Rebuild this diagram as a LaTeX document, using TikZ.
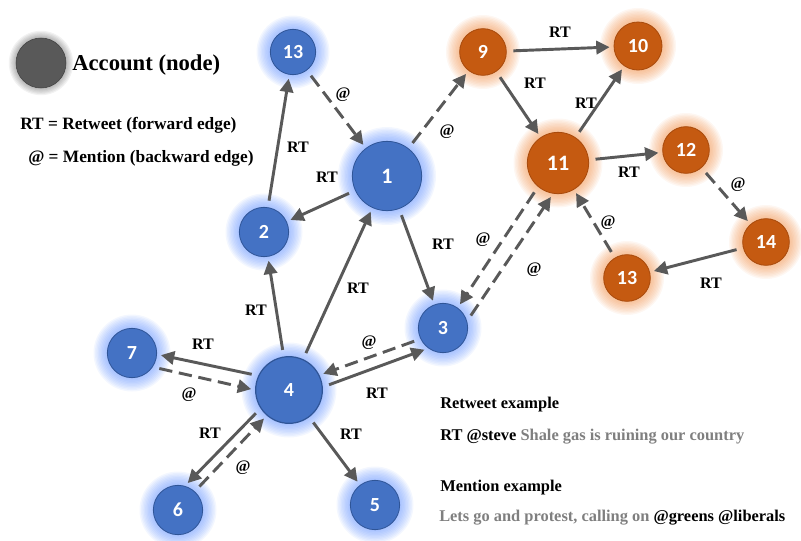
\documentclass[tikz,border=0pt]{standalone}
\usepackage{fontspec}
\setmainfont{Liberation Serif}
\newfontfamily\numfamily{Carlito}
\usetikzlibrary{arrows.meta, backgrounds}

\definecolor{accblue}{HTML}{4472C4}
\definecolor{accblueline}{HTML}{2F5597}
\definecolor{glowblue}{HTML}{5B8CFF}
\definecolor{accorange}{HTML}{C55A11}
\definecolor{accorangeline}{HTML}{A84A0C}
\definecolor{gloworange}{HTML}{F08A40}
\definecolor{edgegray}{HTML}{595959}
\definecolor{textgray}{HTML}{7F7F7F}

\tikzset{
    account/.style={
        circle, inner sep=0pt, text=white, line width=0.6pt,
        font=\numfamily\bfseries\fontsize{15}{15}\selectfont
    },
    blueacc/.style={account, fill=accblue, draw=accblueline},
    orangeacc/.style={account, fill=accorange, draw=accorangeline},
    rt/.style={
        line width=2.2pt, draw=edgegray, -{Triangle[length=10pt,width=10pt]},
        shorten <=5pt, shorten >=3pt
    },
    mention/.style={rt, dash pattern=on 10pt off 5pt},
    lbl/.style={font=\bfseries\fontsize{12}{12}\selectfont, inner sep=1pt},
    legend/.style={anchor=west, inner sep=0pt, font=\bfseries\fontsize{13}{13}\selectfont},
    example/.style={legend, font=\bfseries\fontsize{12.3}{12.3}\selectfont}
}

\begin{document}
\begin{tikzpicture}[x=0.75pt, y=-0.75pt]
    \useasboundingbox (0,0) rectangle (801,540);

    % Legend
    \node[circle, fill=edgegray, draw=black!75, minimum size=37.5pt] (legacc) at (41,63) {};
    \node[legend, font=\bfseries\fontsize{17}{17}\selectfont] (legtxt) at (72,65) {Account (node)};
    \node[legend] (legrt) at (20,125) {RT = Retweet (forward edge)};
    \node[legend] (legat) at (28,158) {@ = Mention (backward edge)};

    % Blue accounts
    \node[blueacc, minimum size=34pt] (b13) at (293,52) {13};
    \node[blueacc, minimum size=52pt, font=\numfamily\bfseries\fontsize{16.5}{16.5}\selectfont] (b1) at (387,176) {1};
    \node[blueacc, minimum size=37pt] (b2) at (264,232) {2};
    \node[blueacc, minimum size=37pt] (b3) at (443,328) {3};
    \node[blueacc, minimum size=50pt, line width=0.9pt] (b4) at (289,390) {4};
    \node[blueacc, minimum size=37pt] (b7) at (132,353) {7};
    \node[blueacc, minimum size=37pt] (b6) at (178,510) {6};
    \node[blueacc, minimum size=37pt] (b5) at (375,505) {5};

    % Orange accounts
    \node[orangeacc, minimum size=35pt] (o9) at (483,52) {9};
    \node[orangeacc, minimum size=36pt] (o10) at (638,46) {10};
    \node[orangeacc, minimum size=46pt, font=\numfamily\bfseries\fontsize{16.5}{16.5}\selectfont] (o11) at (558,163) {11};
    \node[orangeacc, minimum size=35pt] (o12) at (686,150) {12};
    \node[orangeacc, minimum size=35pt] (o14) at (766,242) {14};
    \node[orangeacc, minimum size=35pt] (o13) at (627,278) {13};

    % Glow
    \begin{scope}[on background layer]
        \foreach \n/\r/\c in {b13/22.5/glowblue, b1/35/glowblue, b2/24.5/glowblue,
            b3/24.5/glowblue, b4/33.5/glowblue, b7/24.5/glowblue, b6/24.5/glowblue, b5/24.5/glowblue,
            o9/23/gloworange, o10/24/gloworange, o11/30.5/gloworange, o12/23/gloworange,
            o14/23/gloworange, o13/23/gloworange}
            \foreach \g in {1,...,10}
                \fill[\c, opacity=0.07] (\n) circle[radius={(\r+1.4*\g)*0.75pt}];
        \foreach \g in {1,...,6}
            \fill[black, opacity=0.05] (legacc) circle[radius={(25+1.2*\g)*0.75pt}];
    \end{scope}

    % Retweets and mentions, blue group
    \draw[mention] (b13) -- (b1) node[lbl] at (343,95) {@};
    \draw[rt] (b2) -- (b13) node[lbl] at (298,147) {RT};
    \draw[rt] (b1) -- (b2) node[lbl] at (327,177) {RT};
    \draw[rt] (b1) -- (b3) node[lbl] at (443,244) {RT};
    \draw[mention] (b1) -- (o9) node[lbl] at (447,132) {@};
    \draw[rt] (b4) -- (b2) node[lbl] at (256,310) {RT};
    \draw[rt] (b4) -- (b1) node[lbl] at (358,288) {RT};
    \draw[rt] (b4.155) -- (b7.-3) node[lbl] at (203,344) {RT};
    \draw[mention] (b7.-34) -- (b4.180) node[lbl] at (189,395) {@};
    \draw[mention] (b3.-154) -- (b4.26) node[lbl] at (369,343) {@};
    \draw[rt] (b4.5) -- (b3.-126) node[lbl] at (377,393) {RT};
    \draw[rt] (b4.-147) -- (b6.74) node[lbl] at (210,433) {RT};
    \draw[mention] (b6.48) -- (b4.-131) node[lbl] at (243,468) {@};
    \draw[rt] (b4) -- (b5) node[lbl] at (351,434) {RT};

    % between the groups
    \draw[mention] (o11.-130) -- (b3.54) node[lbl] at (483,240) {@};
    \draw[mention] (b3.16) -- (o11.-99) node[lbl] at (534,270) {@};

    % orange group
    \draw[rt] (o9) -- (o10) node[lbl] at (560,32) {RT};
    \draw[rt] (o9) -- (o11) node[lbl] at (535,83) {RT};
    \draw[rt] (o11) -- (o10) node[lbl] at (586,103) {RT};
    \draw[rt] (o11) -- (o12) node[lbl] at (629,172) {RT};
    \draw[mention] (o12) -- (o14) node[lbl] at (738,185) {@};
    \draw[mention] (o13) -- (o11) node[lbl] at (608,223) {@};
    \draw[rt] (o14) -- (o13) node[lbl] at (711,283) {RT};

    % Examples
    \node[example] (ex1) at (440,405) {Retweet example};
    \node[example] (ex2) at (440,437) {RT @steve \textcolor{textgray}{Shale gas is ruining our country}};
    \node[example] (ex3) at (440,488) {Mention example};
    \node[example] (ex4) at (439,518) {\textcolor{textgray}{Lets go and protest, calling on} @greens @liberals};

\end{tikzpicture}
\end{document}
